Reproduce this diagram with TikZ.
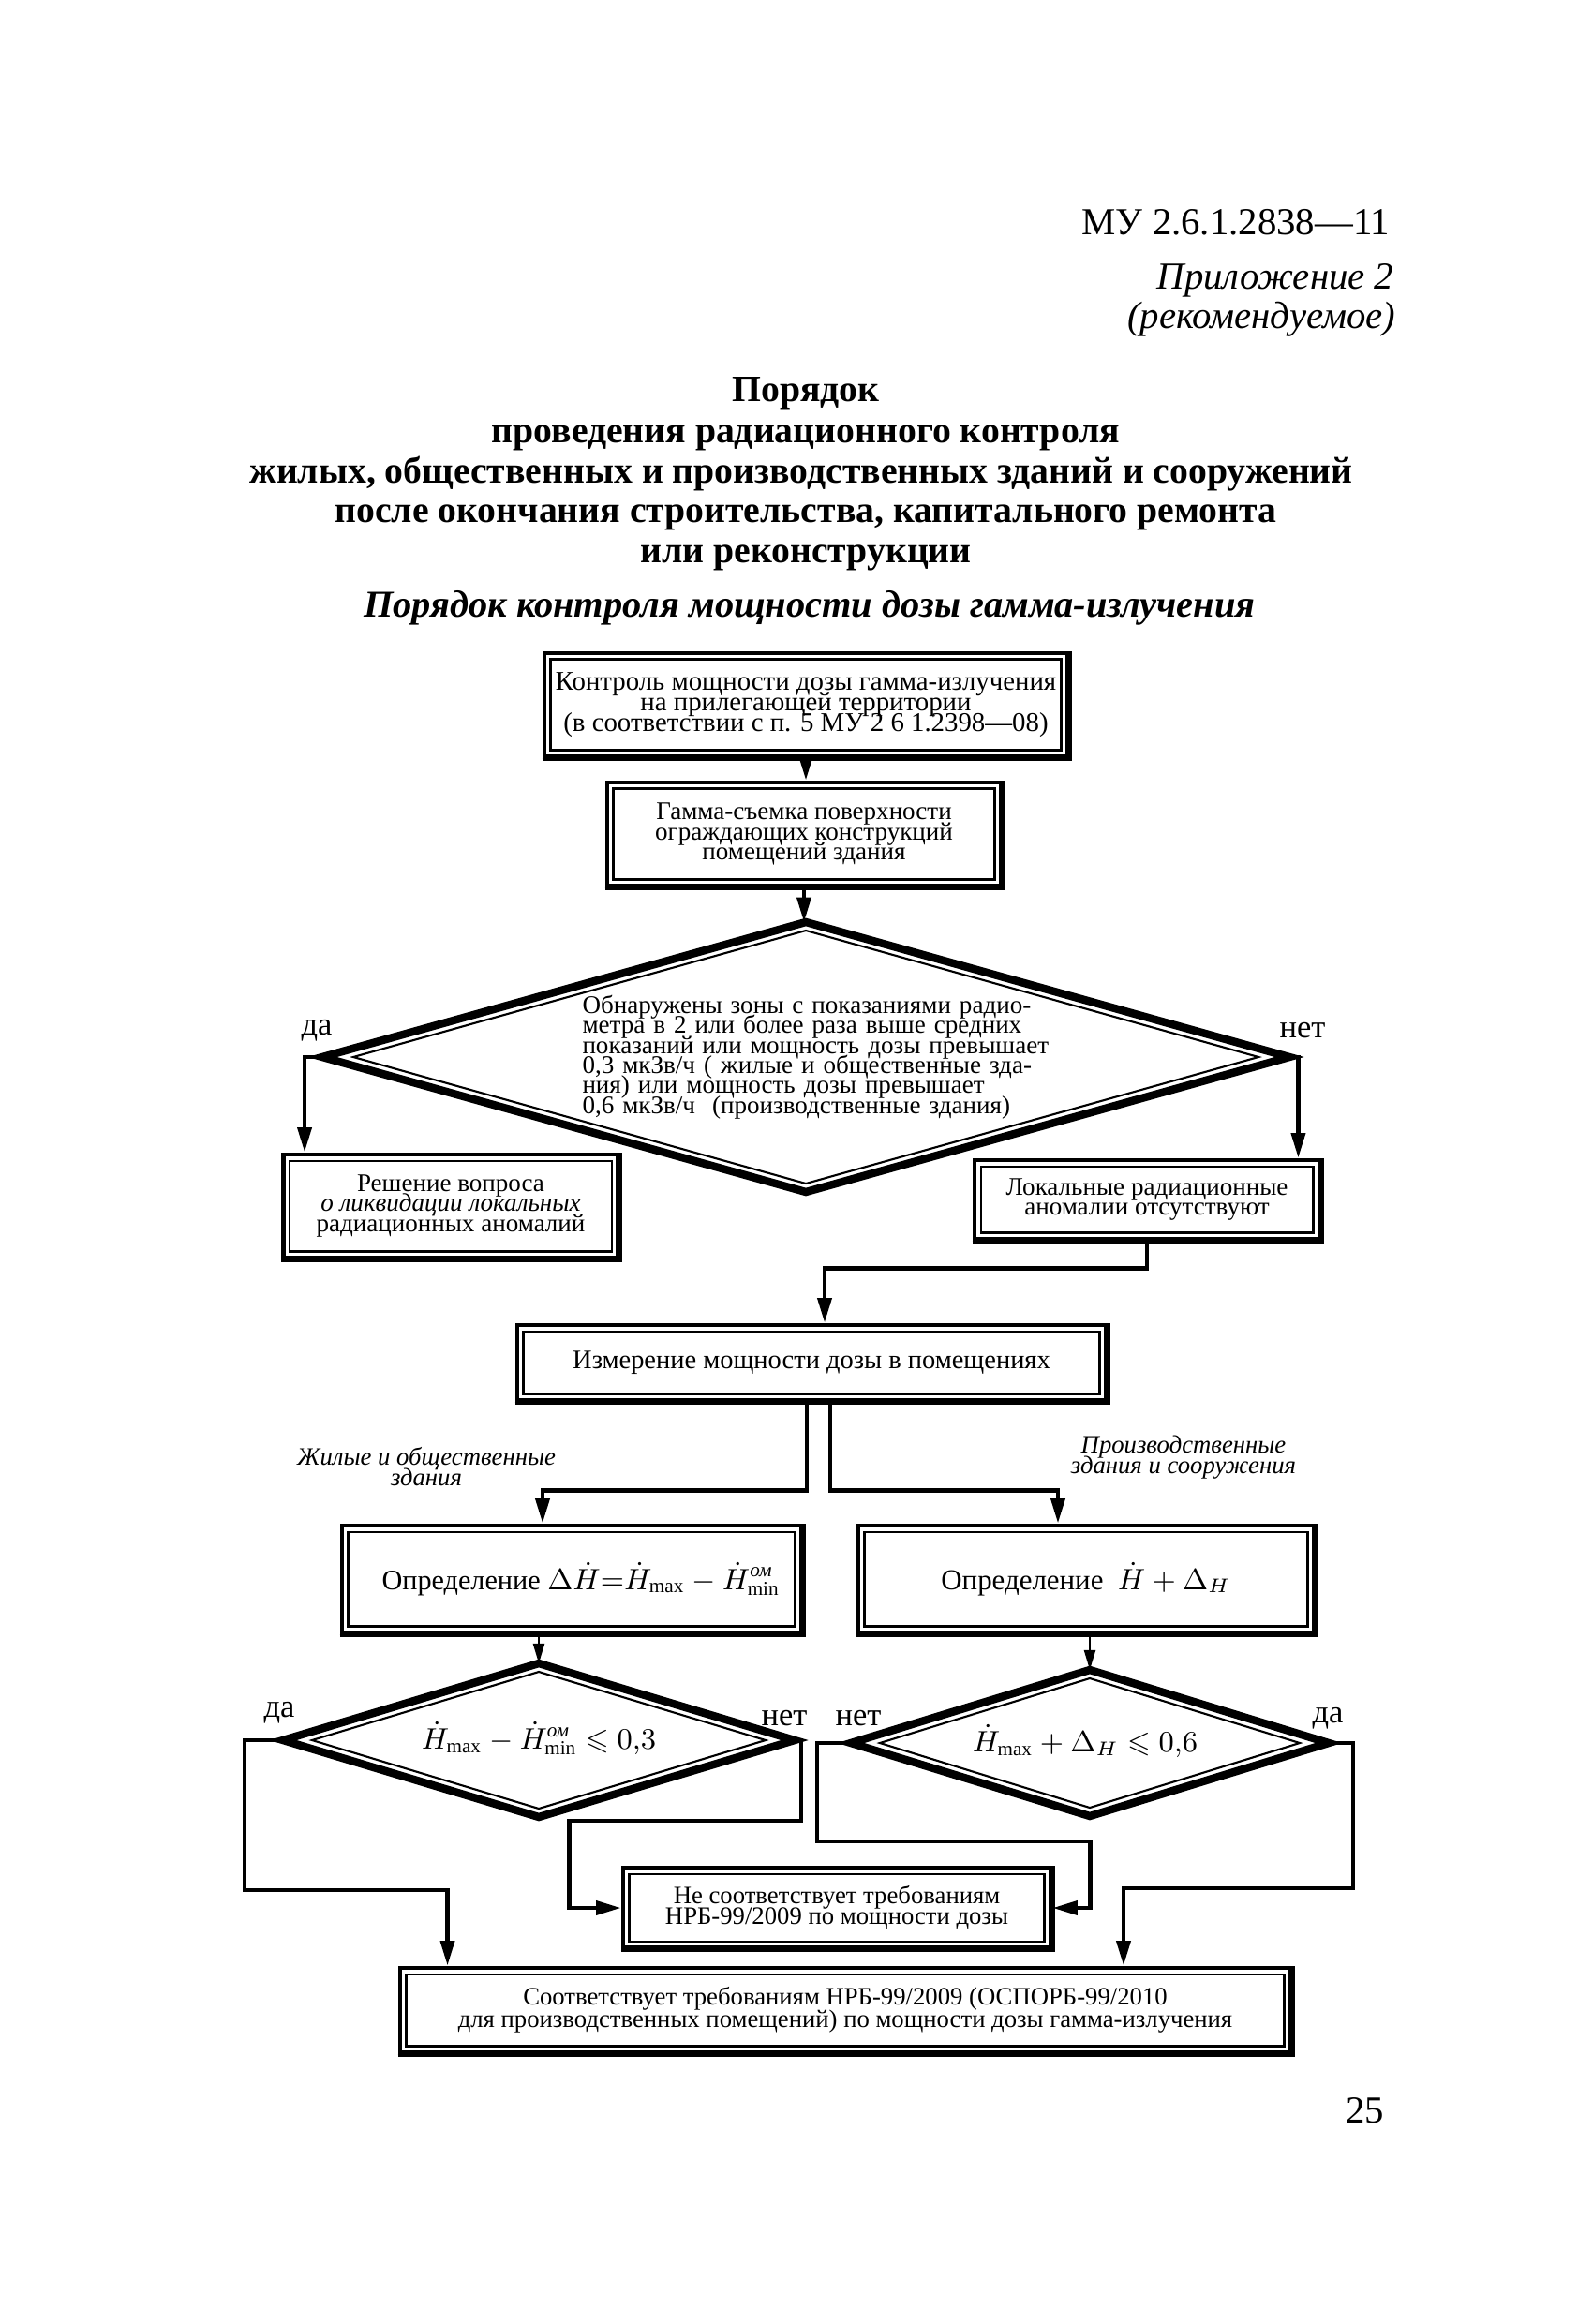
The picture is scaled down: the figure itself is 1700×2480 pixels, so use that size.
\documentclass[tikz,border=0pt]{standalone}
\usepackage{amsmath,amssymb}
\usepackage{fontspec}
\setmainfont{Liberation Serif}
\usetikzlibrary{shapes.geometric,arrows.meta,calc}
\newcommand\tightskip{\lineskiplimit=-20pt\relax}
\newcommand\flowfont{\fontsize{7.7}{6.1}\selectfont\tightskip}
\newcommand\topfont{\fontsize{8.2}{6.3}\selectfont\tightskip}
\newcommand\smallflow{\fontsize{7.6}{6.2}\selectfont\tightskip}
\newcommand\bigflow{\fontsize{7.6}{6.7}\selectfont\tightskip}
\newcommand\ilblfont{\fontsize{7.6}{6.2}\selectfont\itshape\tightskip}
\newcommand\innerbox[1]{\draw[innerline] ($(#1.north west)+(9,9)$) rectangle ($(#1.south east)+(-9,-9)$);
  \draw[line width=0.8pt] ($(#1.south west)+(0,1)$) -- ($(#1.south east)+(1,1)$) -- ($(#1.north east)+(1,0)$);}
\newcommand\innerdia[3]{\draw[innerline] ($(#1.west)+(#2,0)$) -- ($(#1.north)+(0,#3)$) -- ($(#1.east)+(-#2,0)$) -- ($(#1.south)+(0,-#3)$) -- cycle;}
\begin{document}
\begin{tikzpicture}[x=0.1mm,y=-0.1mm,
  box/.style={draw, line width=1.4pt, inner sep=0pt, align=center, font=\flowfont},
  dia/.style={draw, diamond, line width=2.4pt, outer sep=0pt, inner sep=0pt},
  diatext/.style={inner sep=0pt, align=center, font=\flowfont},
  innerline/.style={line width=0.6pt},
  arr/.style={line width=1.2pt, -{Triangle[length=7.5pt,width=4.2pt]}},
  thinarr/.style={line width=0.7pt, -{Triangle[length=6pt,width=3.4pt]}},
  lbl/.style={font=\fontsize{9.8}{11}\selectfont},
  ilbl/.style={font=\ilblfont, align=center},
  hdr/.style={font=\fontsize{11.6}{13}\selectfont, inner sep=0pt},
  ttl/.style={font=\fontsize{11.3}{12}\selectfont\bfseries, inner sep=0pt}
]
\fill[white] (0,0) rectangle (1700,2480);
\useasboundingbox (0,0) rectangle (1700,2480);

% header
\node[hdr, anchor=base east] (code) at (1484,250) {МУ 2.6.1.2838—11};
\node[hdr, anchor=base east, font=\fontsize{11.6}{13}\selectfont\itshape] (app) at (1488,308) {Приложение 2};
\node[hdr, anchor=base east, font=\fontsize{11.6}{13}\selectfont\itshape] (rec) at (1490,350) {(рекомендуемое)};

\node[ttl, anchor=base] (t1) at (860,428) {Порядок};
\node[ttl, anchor=base] (t2) at (860,472) {проведения радиационного контроля};
\node[ttl, anchor=base] (t3) at (855,515) {жилых, общественных и производственных зданий и сооружений};
\node[ttl, anchor=base] (t4) at (860,557) {после окончания строительства, капитального ремонта};
\node[ttl, anchor=base] (t5) at (860,600) {или реконструкции};
\node[ttl, anchor=base, font=\fontsize{11.5}{12}\selectfont\bfseries\itshape] (t6) at (864,658) {Порядок контроля мощности дозы гамма-излучения};

% boxes
\node[box, minimum width=55.8mm, minimum height=11mm, font=\topfont] (b1) at (860,752)
  {Контроль мощности дозы гамма-излучения\\на прилегающей территории\\(в соответствии с п. 5 МУ 2 6 1.2398—08)};
\node[box, minimum width=42mm, minimum height=11mm] (b2) at (858,890)
  {Гамма-съемка поверхности\\ограждающих конструкций\\помещений здания};

\node[dia, minimum width=103.2mm, minimum height=28.8mm] (d1) at (860,1128) {};
\node[diatext, text width=47.7mm, align=left] (d1t) at (860,1128)
  {\makebox[47.7mm][s]{Обнаружены зоны с показаниями радио-}\\
   \makebox[47.7mm][s]{метра в 2 или более раза выше средних}\\
   \makebox[47.7mm][s]{показаний или мощность дозы превышает}\\
   \makebox[47.7mm][s]{0,3 мкЗв/ч ( жилые и общественные зда-}\\
   ния) или мощность дозы превышает\\
   0,6 мкЗв/ч \ (производственные здания)};

\node[box, minimum width=35.7mm, minimum height=11mm] (b3) at (481,1287)
  {Решение вопроса\\\textit{о ликвидации локальных}\\радиационных аномалий};
\node[box, minimum width=36.8mm, minimum height=8.4mm] (b4) at (1224,1280)
  {Локальные радиационные\\аномалии отсутствуют};
\node[box, minimum width=62.8mm, minimum height=8mm, font=\fontsize{8.1}{6}\selectfont] (b5) at (866,1454)
  {Измерение мощности дозы в помещениях};
\node[box, minimum width=49mm, minimum height=11.4mm, font=\fontsize{8.6}{7}\selectfont] (b6) at (610,1685)
  {\hspace*{2mm}Определение $\Delta\dot{H}{=}\dot{H}_{\max}-\dot{H}^{\textit{ом}}_{\min}$};
\node[box, minimum width=48.6mm, minimum height=11.4mm, font=\fontsize{8.8}{7}\selectfont] (b7) at (1159,1685)
  {Определение \ $\dot{H}+\Delta_{H}$};

\node[dia, minimum width=54.6mm, minimum height=16.4mm] (d2) at (575,1857) {};
\node[diatext, font=\fontsize{9}{8}\selectfont] (d2t) at (575,1855)
  {$\dot{H}_{\max}-\dot{H}^{\textit{ом}}_{\min}\leqslant 0{,}3$};
\node[dia, minimum width=51mm, minimum height=15.6mm] (d3) at (1163,1860) {};
\node[diatext, font=\fontsize{9}{8}\selectfont] (d3t) at (1158,1858)
  {$\dot{H}_{\max}+\Delta_{H}\leqslant 0{,}6$};

\node[box, minimum width=45.6mm, minimum height=8.5mm, font=\smallflow] (b8) at (893,2036)
  {Не соответствует требованиям\\НРБ-99/2009 по мощности дозы};
\node[box, minimum width=95mm, minimum height=9mm, font=\bigflow] (b9) at (902,2145)
  {Соответствует требованиям НРБ-99/2009 (ОСПОРБ-99/2010\\для производственных помещений) по мощности дозы гамма-излучения};

\foreach \n in {b1,b2,b3,b4,b5,b6,b7,b8,b9} {\innerbox{\n}}
\innerdia{d1}{33}{9}
\innerdia{d2}{31}{9}
\innerdia{d3}{31}{9}

% labels
\node[lbl] (yes1) at (338,1100) {да};
\node[lbl] (no1) at (1390,1100) {нет};
\node[lbl] (yes2) at (298,1828) {да};
\node[lbl] (no2) at (837,1834) {нет};
\node[lbl] (no3) at (916,1834) {нет};
\node[lbl] (yes3) at (1417,1834) {да};
\node[ilbl] (res) at (455,1565) {Жилые и общественные\\здания};
\node[ilbl] (ind) at (1263,1555) {Производственные\\здания и сооружения};

\node[hdr, anchor=base east] (page) at (1478,2265) {25};

% connectors
\draw[arr] (b1.south) -- (b1.south |- b2.north);
\draw[arr] (b2.south) -- (b2.south |- d1.north);
\draw[arr] (d1.west) -| ($(b3.north west)+(25,0)$);
\draw[arr] (d1.east) -| ($(b4.north east)+(-25,0)$);
\draw[arr] (b4.south) -- ++(0,29) -| ($(b5.north)+(14,0)$);
\draw[arr] ($(b5.south)+(-5,0)$) -- ++(0,94) -| ($(b6.north)+(-31,0)$);
\draw[arr] ($(b5.south)+(20,0)$) -- ++(0,94) -| ($(b7.north)+(-30,0)$);
\draw[thinarr] (d2.north |- b6.south) -- (d2.north);
\draw[thinarr] (d3.north |- b7.south) -- (d3.north);
\coordinate (L1) at (261,2017);
\draw[arr] (d2.west) -| (L1) -| ($(b9.north west)+(53,0)$);
\coordinate (R1) at (855,1943);
\draw[arr] (d2.east) -| (R1) -| ($(b8.west)+(-55,0)$) -- (b8.west);
\coordinate (L2) at (872,1965);
\draw[arr] (d3.west) -| (L2) -| ($(b8.east)+(40,0)$) -- (b8.east);
\coordinate (R3) at (1444,2015);
\draw[arr] (d3.east) -| (R3) -| ($(b9.north)+(297,0)$);
\end{tikzpicture}
\end{document}
